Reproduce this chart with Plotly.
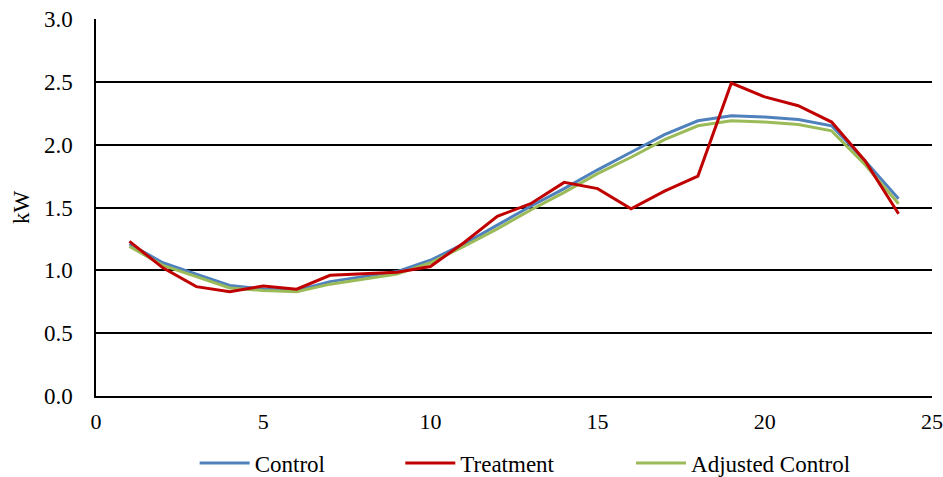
import plotly.graph_objects as go

hours = list(range(1, 25))
control = [1.21, 1.06, 0.97, 0.88, 0.85, 0.84, 0.91, 0.95, 0.99, 1.08, 1.21, 1.36,
           1.51, 1.65, 1.80, 1.94, 2.08, 2.19, 2.23, 2.22, 2.20, 2.15, 1.87, 1.57]
treatment = [1.23, 1.02, 0.87, 0.83, 0.875, 0.85, 0.96, 0.975, 0.985, 1.03, 1.22, 1.43,
             1.53, 1.70, 1.65, 1.49, 1.63, 1.75, 2.49, 2.38, 2.31, 2.18, 1.87, 1.45]
adjusted = [1.19, 1.04, 0.95, 0.86, 0.84, 0.83, 0.89, 0.93, 0.97, 1.06, 1.19, 1.33,
            1.48, 1.62, 1.77, 1.90, 2.04, 2.15, 2.19, 2.18, 2.16, 2.11, 1.84, 1.53]

FONT = "Liberation Serif, Times New Roman, serif"
FS = 23

fig = go.Figure()
fig.add_trace(go.Scatter(x=hours, y=control, mode="lines", name="Control", showlegend=True,
                         line=dict(color="#4F81BD", width=3), legend="legend"))
fig.add_trace(go.Scatter(x=hours, y=adjusted, mode="lines", name="Adjusted Control", showlegend=True,
                         line=dict(color="#9BBB59", width=3), legend="legend3"))
fig.add_trace(go.Scatter(x=hours, y=treatment, mode="lines", name="Treatment", showlegend=True,
                         line=dict(color="#C00000", width=3), legend="legend2"))

leg_common = dict(orientation="h", yanchor="middle", y=-0.178, xanchor="left",
                  font=dict(family=FONT, size=FS, color="black"),
                  bgcolor="rgba(0,0,0,0)", itemwidth=50)

fig.update_layout(
    width=943, height=477,
    margin=dict(l=96, r=11, t=19, b=81, autoexpand=False),
    plot_bgcolor="white", paper_bgcolor="white",
    font=dict(family=FONT, size=FS, color="black"),
    legend=dict(x=0.118, **leg_common),
    legend2=dict(x=0.364, **leg_common),
    legend3=dict(x=0.640, **leg_common),
    xaxis=dict(range=[0, 25], tickvals=[0, 5, 10, 15, 20, 25], showgrid=False,
               zeroline=False, showline=True, linecolor="black", linewidth=1.5,
               ticks="", ticklabelstandoff=5, automargin=False,
               tickfont=dict(family=FONT, size=22, color="black")),
    yaxis=dict(range=[0, 3.0], tickvals=[0, 0.5, 1.0, 1.5, 2.0, 2.5, 3.0],
               tickformat=".1f", showgrid=True, gridcolor="black", gridwidth=1.5,
               zeroline=False, showline=True, linecolor="black", linewidth=1.5,
               ticks="", ticklabelstandoff=17, automargin=False,
               title=dict(text="kW", font=dict(family=FONT, size=FS, color="black"),
                          standoff=8),
               tickfont=dict(family=FONT, size=FS, color="black")),
)

fig.write_html("out.html")
